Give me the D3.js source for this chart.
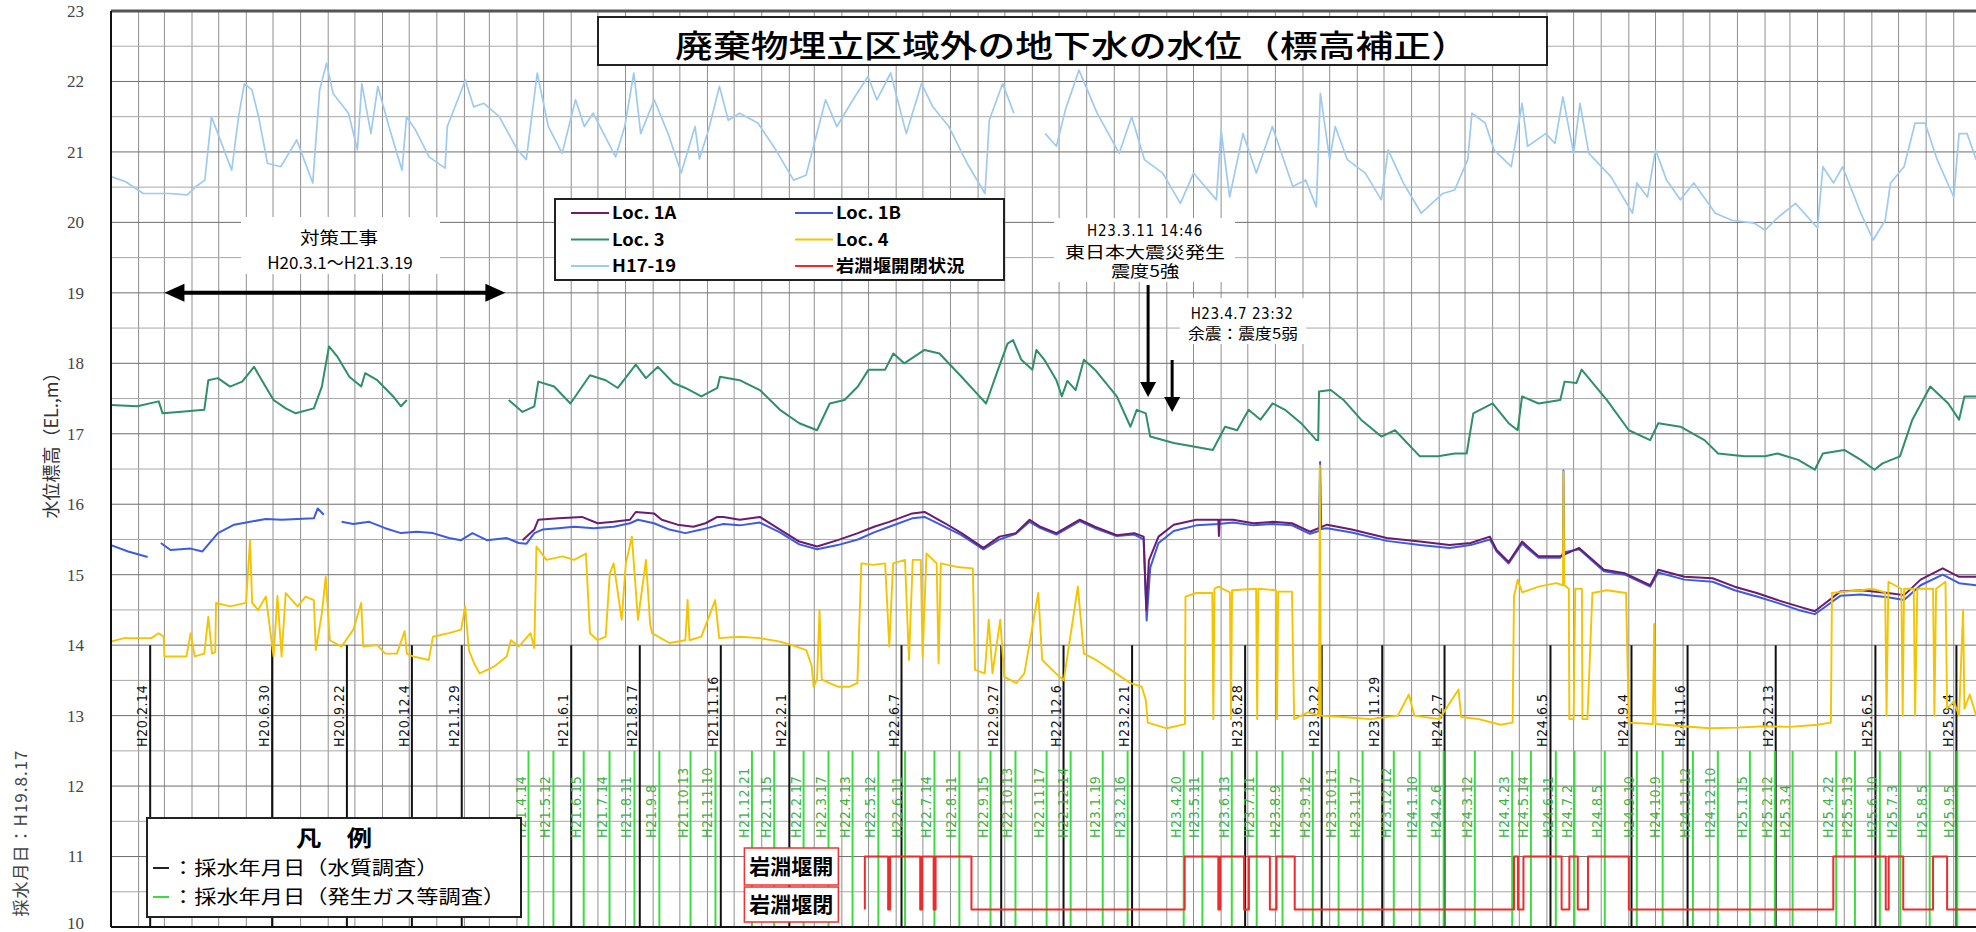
<!DOCTYPE html>
<html><head><meta charset="utf-8">
<script src="https://cdn.jsdelivr.net/npm/d3@7"></script>
<style>body{margin:0;background:#fff}svg{display:block}</style>
</head><body>
<svg id="c" width="1976" height="932"></svg>
<script>
// x values: months elapsed since H20.1.1 (2008-01-01); y values: water level EL.m
const seriesNames = ["Loc. 1A","Loc. 1B","Loc. 3","Loc. 4","H17-19","岩淵堰開閉状況"];
const seriesColors = ["#6b1c6e","#3d5be0","#2f8f66","#f5c400","#9fcaf0","#ee2a2a"];

const h1719 = [[0,20.65],[0.52,20.58],[1.18,20.41],[2.17,20.41],[2.83,20.39],[3.15,20.51],[3.48,20.6],[3.73,21.5],[3.97,21.26],[4.47,20.74],[4.72,21.5],[4.93,21.97],[5.21,21.88],[5.46,21.5],[5.79,20.84],[6.28,20.79],[6.86,21.17],[7.44,20.56],[7.69,21.88],[7.94,22.26],[8.18,21.83],[8.76,21.55],[9.09,21.03],[9.25,21.97],[9.58,21.26],[9.83,21.93],[10.24,21.36],[10.73,20.74],[10.9,21.5],[11.23,21.31],[11.72,20.93],[12.3,20.77],[12.38,21.36],[13.04,22.02],[13.37,21.64],[13.78,21.69],[14.36,21.5],[15.02,21.03],[15.35,20.89],[15.76,22.12],[16.17,21.36],[16.67,20.98],[17.16,21.74],[17.49,21.36],[17.82,21.55],[18.64,20.93],[18.97,21.36],[19.3,22.12],[19.55,21.26],[20.04,21.74],[20.56,21.26],[21.05,20.7],[21.55,21.36],[21.71,20.9],[22.04,21.31],[22.45,21.93],[22.78,21.45],[23.2,21.55],[23.86,21.41],[24.51,21.03],[25.17,20.6],[25.67,20.67],[26.16,21.36],[26.41,21.74],[26.82,21.36],[27.48,21.78],[27.98,22.07],[28.3,21.74],[28.8,22.12],[29.38,21.26],[29.95,21.97],[30.36,21.64],[30.94,21.36],[31.6,20.84],[32.26,20.41],[32.42,21.45],[32.92,21.97],[33.33,21.55],[33.9,null],[34.48,21.26],[34.9,21.08],[35.23,21.6],[35.72,22.16],[36.38,21.55],[37.2,20.98],[37.7,21.5],[38.19,20.89],[38.85,20.7],[39.51,20.27],[40.0,20.7],[40.83,20.32],[41.0,21.31],[41.32,20.36],[41.82,21.26],[42.31,20.7],[42.89,21.36],[43.63,20.51],[44.1,20.6],[44.5,20.22],[44.65,21.83],[45.0,20.89],[45.2,21.36],[45.64,20.89],[46.3,20.7],[46.9,20.32],[47.15,21.03],[47.7,20.56],[48.35,20.13],[49.14,20.41],[49.6,20.46],[50.1,20.89],[50.25,21.55],[50.73,21.41],[51.05,21.03],[51.7,20.79],[52.1,21.69],[52.3,21.08],[52.96,21.26],[53.3,21.12],[53.6,21.78],[54.0,20.98],[54.23,21.69],[54.55,20.98],[55.35,20.65],[56.14,20.13],[56.3,20.56],[56.7,20.36],[57.0,21.03],[57.4,20.6],[57.9,20.32],[58.4,20.56],[59.2,20.13],[59.8,20.03],[60.6,19.99],[61.0,19.89],[61.55,20.08],[62.2,20.27],[63.0,19.92],[63.2,20.79],[63.6,20.56],[63.94,20.79],[64.6,20.13],[65.05,19.75],[65.5,20.03],[65.7,20.56],[66.2,20.79],[66.6,21.41],[66.96,21.41],[67.4,20.89],[68.0,20.36],[68.2,21.26],[68.5,21.26],[68.84,20.89]];

const loc3 = [[0,17.41],[0.95,17.39],[1.78,17.46],[1.93,17.29],[2.51,17.31],[3.46,17.34],[3.61,17.76],[3.97,17.79],[4.41,17.67],[4.85,17.74],[5.29,17.95],[5.58,17.76],[6.02,17.48],[6.46,17.36],[6.82,17.29],[7.48,17.36],[7.77,17.67],[8.03,18.24],[8.35,18.09],[8.79,17.81],[9.23,17.67],[9.37,17.86],[9.81,17.76],[10.4,17.53],[10.69,17.39],[10.91,17.48],[12,null],[14.7,17.48],[15.21,17.31],[15.65,17.39],[15.8,17.74],[16.38,17.67],[16.97,17.43],[17.7,17.83],[18.28,17.76],[18.72,17.65],[19.37,17.98],[19.74,17.79],[20.18,17.95],[20.76,17.72],[21.2,17.65],[21.78,17.53],[22.37,17.65],[22.47,17.81],[23.2,17.76],[23.93,17.62],[24.66,17.34],[25.4,17.15],[26.1,17.05],[26.56,17.43],[27.1,17.48],[27.6,17.67],[28.0,17.91],[28.6,17.91],[28.9,18.14],[29.3,18.0],[30.06,18.19],[30.6,18.14],[31.4,17.81],[31.96,17.57],[32.3,17.43],[32.7,17.86],[33.1,18.28],[33.3,18.33],[33.6,18.05],[34.0,17.91],[34.15,18.19],[34.45,18.05],[34.9,17.76],[35.1,17.53],[35.3,17.75],[35.6,17.62],[35.9,18.05],[36.3,17.91],[37.1,17.53],[37.65,17.1],[37.9,17.34],[38.24,17.29],[38.4,16.96],[39.26,16.87],[40.0,16.82],[40.7,16.77],[41.15,17.1],[41.6,17.05],[42.03,17.34],[42.46,17.2],[42.9,17.43],[43.35,17.34],[43.93,17.15],[44.5,16.91],[44.57,16.91],[44.6,17.6],[45.04,17.62],[45.5,17.48],[46.14,17.2],[46.9,16.96],[47.4,17.05],[48.3,16.68],[48.96,16.68],[49.6,16.72],[50.06,16.72],[50.3,17.29],[51.0,17.43],[51.6,17.15],[51.94,17.05],[52.1,17.53],[52.7,17.43],[53.5,17.48],[53.66,17.74],[54.1,17.72],[54.29,17.91],[55.2,17.48],[56.0,17.05],[56.8,16.91],[57.1,17.15],[57.9,17.1],[58.8,16.91],[59.3,16.72],[60.25,16.68],[61.0,16.68],[61.5,16.72],[62.3,16.63],[62.9,16.49],[63.2,16.72],[64.0,16.77],[64.6,16.63],[65.1,16.49],[65.4,16.58],[66.05,16.68],[66.5,17.2],[67.15,17.67],[67.8,17.43],[68.2,17.2],[68.4,17.53],[68.84,17.53]];

const loc1B = [[0,15.42],[0.62,15.33],[1.35,15.25],[1.6,null],[1.86,15.45],[2.22,15.35],[2.95,15.37],[3.39,15.33],[3.97,15.59],[4.56,15.71],[5.14,15.75],[5.73,15.79],[6.31,15.78],[6.89,15.79],[7.48,15.8],[7.62,15.94],[7.84,15.85],[8.2,null],[8.5,15.75],[8.94,15.72],[9.52,15.75],[10.1,15.66],[10.69,15.59],[11.27,15.61],[11.86,15.59],[12.44,15.52],[12.88,15.49],[13.32,15.59],[13.9,15.49],[14.63,15.52],[15.07,15.45],[15.36,15.44],[15.65,15.59],[15.95,15.64],[16.53,15.66],[17.11,15.68],[17.84,15.66],[18.57,15.68],[19.16,15.73],[19.45,15.78],[20.03,15.73],[20.61,15.64],[21.2,15.59],[21.78,15.64],[22.37,15.7],[22.6,15.72],[23.2,15.7],[23.93,15.74],[24.66,15.6],[25.4,15.43],[26.1,15.36],[26.85,15.42],[27.6,15.5],[28.2,15.6],[28.75,15.68],[29.6,15.8],[30.06,15.82],[30.8,15.68],[31.4,15.56],[32.2,15.36],[32.8,15.5],[33.4,15.58],[33.9,15.75],[34.3,15.66],[34.9,15.57],[35.75,15.76],[36.3,15.66],[37.1,15.55],[37.8,15.57],[38.16,15.5],[38.27,14.35],[38.4,15.1],[38.7,15.45],[39.26,15.62],[40.1,15.7],[40.9,15.72],[41.45,15.74],[42.2,15.7],[42.9,15.72],[43.6,15.7],[44.26,15.58],[44.6,15.62],[44.64,16.6],[44.68,15.65],[44.9,15.66],[45.8,15.6],[47.1,15.48],[48.3,15.42],[49.4,15.38],[50.2,15.42],[50.9,15.5],[51.15,15.33],[51.6,15.16],[52.1,15.44],[52.7,15.24],[53.5,15.24],[53.6,15.3],[53.62,16.48],[53.65,15.32],[54.2,15.36],[55.1,15.05],[55.86,15.0],[56.8,14.83],[57.1,15.03],[58.05,14.93],[59.1,14.9],[59.9,14.78],[60.7,14.69],[61.5,14.6],[62.3,14.5],[62.9,14.44],[63.2,14.52],[63.85,14.7],[64.6,14.72],[65.6,14.68],[66.2,14.64],[66.8,14.85],[67.6,15.0],[68.2,14.88],[68.84,14.85]];

const loc1A = [[15.21,15.49],[15.65,15.64],[15.8,15.78],[16.53,15.8],[17.4,15.82],[17.99,15.73],[18.57,15.75],[19.16,15.78],[19.37,15.89],[20.03,15.87],[20.32,15.78],[20.91,15.71],[21.49,15.68],[21.93,15.73],[22.37,15.82],[22.6,15.82],[23.2,15.78],[23.93,15.82],[24.66,15.64],[25.4,15.47],[26.1,15.4],[26.85,15.49],[27.6,15.59],[28.2,15.68],[28.75,15.75],[29.6,15.87],[30.06,15.89],[30.8,15.73],[31.4,15.59],[32.2,15.38],[32.8,15.54],[33.4,15.59],[33.9,15.78],[34.3,15.68],[34.9,15.59],[35.75,15.78],[36.3,15.68],[37.1,15.56],[37.8,15.59],[38.16,15.54],[38.26,14.5],[38.35,15.2],[38.7,15.54],[39.26,15.71],[40.1,15.78],[40.9,15.78],[40.92,15.55],[40.95,15.78],[41.45,15.78],[42.2,15.73],[42.9,15.75],[43.6,15.73],[44.26,15.61],[44.9,15.71],[45.8,15.64],[47.1,15.52],[48.3,15.47],[49.4,15.42],[50.2,15.45],[50.9,15.54],[51.15,15.35],[51.6,15.18],[52.1,15.47],[52.7,15.26],[53.5,15.26],[54.2,15.38],[55.1,15.07],[55.86,15.02],[56.8,14.85],[57.1,15.07],[58.05,14.97],[59.1,14.95],[59.9,14.83],[60.7,14.74],[61.5,14.64],[62.3,14.55],[62.9,14.48],[63.2,14.57],[63.85,14.76],[64.6,14.78],[65.6,14.74],[66.2,14.71],[66.8,14.93],[67.6,15.09],[68.2,14.97],[68.84,14.97]];

const loc4 = [[0,14.05],[0.47,14.1],[1.49,14.1],[1.78,14.17],[1.97,14.12],[2.0,13.84],[2.8,13.84],[2.95,14.17],[3.1,13.84],[3.46,13.88],[3.61,14.4],[3.75,13.88],[3.87,13.9],[3.9,14.6],[4.41,14.55],[4.99,14.6],[5.14,15.49],[5.22,14.6],[5.44,14.5],[5.73,14.69],[6.02,13.84],[6.16,14.7],[6.31,13.84],[6.46,14.74],[6.89,14.55],[7.18,14.69],[7.48,14.64],[7.55,13.93],[7.77,14.45],[7.91,14.97],[8.06,14.07],[8.5,13.98],[8.94,14.22],[9.23,14.6],[9.3,13.98],[9.81,14.0],[10.1,13.88],[10.54,13.88],[10.83,14.2],[10.91,13.88],[11.13,13.84],[11.71,13.79],[11.86,14.12],[12.44,14.17],[12.88,14.22],[13.03,14.55],[13.18,13.93],[13.39,13.74],[13.61,13.6],[14.19,13.7],[14.63,13.84],[14.78,14.07],[15.07,13.98],[15.51,14.17],[15.65,13.96],[15.73,15.4],[16.1,15.21],[16.68,15.26],[17.11,15.21],[17.55,15.3],[17.7,14.17],[17.99,14.07],[18.28,14.12],[18.43,15.02],[18.57,15.16],[18.86,14.36],[19.01,15.16],[19.23,15.54],[19.45,14.36],[19.74,15.21],[19.89,14.3],[19.96,14.17],[20.61,14.03],[21.2,14.07],[21.28,14.64],[21.35,14.07],[21.78,14.12],[22.29,14.64],[22.44,14.1],[23.2,14.12],[23.93,14.1],[24.66,14.05],[25.1,14.0],[25.68,13.93],[25.9,13.7],[25.97,13.41],[26.1,13.51],[26.19,14.5],[26.27,13.51],[26.85,13.41],[27.29,13.41],[27.58,13.46],[27.73,15.16],[28.16,15.14],[28.6,15.16],[28.75,13.98],[28.89,15.16],[29.33,15.21],[29.48,13.79],[29.62,15.21],[29.92,15.21],[29.99,13.84],[30.13,15.3],[30.5,15.16],[30.57,13.74],[30.65,15.16],[31.23,15.11],[31.81,15.09],[31.89,13.65],[32.25,13.6],[32.4,14.36],[32.54,13.6],[32.83,14.36],[32.98,13.55],[33.42,13.46],[33.71,13.6],[34.22,14.74],[34.37,13.79],[34.88,13.6],[35.17,13.5],[35.68,14.83],[35.9,13.88],[36.34,13.79],[37.07,13.6],[37.65,13.46],[38.09,13.41],[38.24,13.22],[38.31,12.9],[39.0,12.82],[39.68,12.88],[39.7,14.69],[40.1,14.74],[40.68,14.74],[40.72,12.95],[40.76,14.8],[40.9,14.83],[41.33,14.75],[41.37,12.95],[41.41,14.78],[42.3,14.8],[42.34,12.95],[42.38,14.8],[43.02,14.78],[43.06,12.95],[43.1,14.76],[43.6,14.76],[43.68,12.95],[44.2,13.05],[44.6,13.0],[44.63,16.55],[44.67,13.0],[45.5,12.98],[46.5,12.95],[47.5,13.0],[47.9,13.3],[48.1,13.0],[49.0,12.95],[49.75,13.37],[49.85,12.98],[50.5,12.95],[51.3,12.87],[51.75,12.9],[51.8,14.69],[51.94,14.93],[52.1,14.75],[52.7,14.83],[53.35,14.88],[53.6,14.85],[53.62,16.46],[53.65,14.85],[53.82,14.8],[53.84,12.95],[54.0,12.95],[54.06,14.8],[54.3,14.8],[54.32,12.95],[54.5,12.95],[54.68,14.74],[55.2,14.78],[55.9,14.74],[56.0,12.9],[56.9,12.88],[56.95,14.3],[57.0,12.88],[58.0,12.85],[59.0,12.82],[60.0,12.83],[61.0,12.85],[62.0,12.84],[63.0,12.87],[63.5,12.9],[63.54,14.74],[64.0,14.76],[64.6,14.78],[65.0,14.8],[65.5,14.75],[65.55,13.0],[65.62,14.9],[66.1,14.8],[66.15,13.0],[66.2,14.8],[66.55,14.8],[66.6,13.0],[66.68,14.8],[67.25,14.8],[67.3,13.0],[67.36,14.8],[67.7,14.9],[67.76,13.1],[68.0,13.2],[68.2,13.0],[68.35,14.5],[68.4,13.1],[68.6,13.3],[68.84,13.0]];

// weir status: 11 = open, 10.25 = closed (step after)
const weir = [[27.86,10.25],[27.86,11],[28.71,10.25],[28.78,11],[29.9,10.25],[29.97,11],[30.39,10.25],[30.46,11],[31.76,10.25],[39.67,11],[40.9,10.25],[40.97,11],[41.86,10.25],[42.04,11],[42.8,10.25],[43.04,11],[43.7,10.25],[51.8,11],[51.95,10.25],[52.15,11],[53.55,10.25],[53.84,11],[54.15,10.25],[54.52,11],[56.0,10.25],[63.59,11],[65.52,10.25],[65.63,11],[66.17,10.25],[67.25,11],[67.76,10.25],[68.84,10.25]];

const qualityDates = ["H20.2.14","H20.6.30","H20.9.22","H20.12.4","H21.1.29","H21.6.1","H21.8.17","H21.11.16","H22.2.1","H22.6.7","H22.9.27","H22.12.6","H23.2.21","H23.6.28","H23.9.22","H23.11.29","H24.2.7","H24.6.5","H24.9.4","H24.11.6","H25.2.13","H25.6.5","H25.9.4"];
const gasDates = ["H21.4.14","H21.5.12","H21.6.15","H21.7.14","H21.8.11","H21.9.8","H21.10.13","H21.11.10","H21.12.21","H22.1.15","H22.2.17","H22.3.17","H22.4.13","H22.5.12","H22.6.11","H22.7.14","H22.8.11","H22.9.15","H22.10.13","H22.11.17","H22.12.14","H23.1.19","H23.2.16","H23.4.20","H23.5.11","H23.6.13","H23.7.11","H23.8.9","H23.9.12","H23.10.11","H23.11.7","H23.12.12","H24.1.10","H24.2.6","H24.3.12","H24.4.23","H24.5.14","H24.6.11","H24.7.2","H24.8.5","H24.9.10","H24.10.9","H24.11.12","H24.12.10","H25.1.15","H25.2.12","H25.3.4","H25.4.22","H25.5.13","H25.6.10","H25.7.3","H25.8.5","H25.9.5"];
const yTicks = [10,11,12,13,14,15,16,17,18,19,20,21,22,23];

const svg = d3.select("#c");
const CJK = '"Noto Sans CJK JP","Noto Sans CJK SC",sans-serif';
const x = d3.scaleTime().domain([new Date(2008,0,1), new Date(2013,8,26)]).range([111,1976]);
const y = d3.scaleLinear().domain([10,23]).range([927,11]);
function md(m){const i=Math.floor(m),f=m-i;const a=new Date(2008,i,1),b=new Date(2008,i+1,1);return new Date(+a+f*(b-a));}
function hd(s){const p=s.slice(1).split(".").map(Number);return new Date(1988+p[0],p[1]-1,p[2]);}
const X = m => x(md(m));

function txt(parent,px,py,s,o={}){
  let tr=`translate(${px},${py})`; if(o.rot) tr+=` rotate(${o.rot})`; if(o.sx) tr+=` scale(${o.sx},1)`;
  const t=parent.append("text").attr("transform",tr).attr("text-anchor",o.anchor||"middle")
    .attr("font-family",o.font||CJK).attr("font-size",o.size||16).attr("font-weight",o.weight||"normal")
    .attr("fill",o.fill||"#000").text(s);
  if(o.ls) t.attr("letter-spacing",o.ls);
  return t;
}

// grid
const grid = svg.append("g");
grid.selectAll("line.v").data(d3.timeMonth.range(new Date(2008,1,1), new Date(2013,9,1))).join("line")
  .attr("x1",d=>x(d)).attr("x2",d=>x(d)).attr("y1",y(23)).attr("y2",y(10)).attr("stroke","#8f8f8f").attr("stroke-width",1);
grid.selectAll("line.h").data(d3.range(10.5,23,0.5)).join("line")
  .attr("x1",111).attr("x2",1976).attr("y1",d=>y(d)).attr("y2",d=>y(d))
  .attr("stroke",d=>Number.isInteger(d)?"#6e6e6e":"#a8a8a8").attr("stroke-width",1);

// axis labels
const ax = svg.append("g").attr("transform","translate(111,0)").call(d3.axisLeft(y).tickValues(yTicks).tickSize(0).tickPadding(27).tickFormat(d3.format("d")));
ax.select(".domain").remove();
ax.selectAll("text").attr("font-family",'"Liberation Serif","DejaVu Serif",serif').attr("font-size",17).attr("fill","#444")
  .attr("dy",d=>d===10?"0.1em":"0.32em");
txt(svg,58,441,"水位標高（EL.,m）",{rot:-90,size:18,fill:"#333"});
txt(svg,27,833,"採水月日：H19.8.17",{rot:-90,size:17,fill:"#444",ls:1});

// sample lines
const samp = svg.append("g");
qualityDates.forEach(s=>{
  const px=x(hd(s));
  samp.append("line").attr("x1",px).attr("x2",px).attr("y1",y(14)).attr("y2",y(10)).attr("stroke","#111").attr("stroke-width",2);
  txt(samp,px-3,747,s,{rot:-90,anchor:"start",size:14,font:'"DejaVu Sans Condensed","DejaVu Sans",sans-serif',fill:"#111",ls:0.6});
});
gasDates.forEach(s=>{
  const px=x(hd(s));
  samp.append("line").attr("x1",px).attr("x2",px).attr("y1",y(12.5)).attr("y2",y(10)).attr("stroke","#3ddc3d").attr("stroke-width",2);
  txt(samp,px-3,838,s,{rot:-90,anchor:"start",size:14,font:'"DejaVu Sans Condensed","DejaVu Sans",sans-serif',fill:"#3cb043",ls:0.6});
});

// series
const line = d3.line().defined(d=>d[1]!==null).x(d=>X(d[0])).y(d=>y(d[1]));
const ser = svg.append("g").attr("fill","none").attr("stroke-linejoin","round");
ser.append("path").attr("d",line(h1719)).attr("stroke",seriesColors[4]).attr("stroke-width",1.7);
ser.append("path").attr("d",line(loc3)).attr("stroke",seriesColors[2]).attr("stroke-width",2);
ser.append("path").attr("d",line(loc1B)).attr("stroke",seriesColors[1]).attr("stroke-width",2);
ser.append("path").attr("d",line(loc1A)).attr("stroke",seriesColors[0]).attr("stroke-width",2);
ser.append("path").attr("d",line(loc4)).attr("stroke",seriesColors[3]).attr("stroke-width",1.9);
ser.append("path").attr("d",d3.line().curve(d3.curveStepAfter).x(d=>X(d[0])).y(d=>y(d[1]))(weir)).attr("stroke",seriesColors[5]).attr("stroke-width",2);

// frame
svg.append("line").attr("x1",111).attr("x2",1976).attr("y1",y(23)).attr("y2",y(23)).attr("stroke","#555").attr("stroke-width",3);
svg.append("line").attr("x1",111).attr("x2",1976).attr("y1",y(10)).attr("y2",y(10)).attr("stroke","#111").attr("stroke-width",2);
svg.append("line").attr("x1",111).attr("x2",111).attr("y1",y(23)).attr("y2",y(10)).attr("stroke","#111").attr("stroke-width",2);

// title
svg.append("rect").attr("x",598).attr("y",17).attr("width",949).attr("height",48).attr("fill","#fff").attr("stroke","#222").attr("stroke-width",2);
txt(svg,1072,57,"廃棄物埋立区域外の地下水の水位（標高補正）",{size:31,sx:1.22,weight:500});

// legend (series)
const lg = svg.append("g");
lg.append("rect").attr("x",555).attr("y",199).attr("width",449).attr("height",81).attr("fill","#fff").attr("stroke","#222").attr("stroke-width",2);
[0,1,2,3,4,5].forEach((k,i)=>{
  const col=i%2,row=Math.floor(i/2);
  const lx=col?795:571, ly=213+row*26.5;
  lg.append("line").attr("x1",lx).attr("x2",lx+38).attr("y1",ly).attr("y2",ly).attr("stroke",seriesColors[k]).attr("stroke-width",2);
  txt(lg,lx+41,ly+6,seriesNames[k],{anchor:"start",size:17,weight:"bold",sx:1.08});
});

// annotation: countermeasure works
const a1 = svg.append("g");
a1.append("rect").attr("x",241).attr("y",217).attr("width",199).attr("height",57).attr("fill","#fff");
txt(a1,339,244,"対策工事",{size:17,sx:1.15});
txt(a1,340,269,"H20.3.1～H21.3.19",{size:17});
const ax1=x(hd("H20.3.1")), ax2=x(hd("H21.3.19")), ay=y(19);
a1.append("line").attr("x1",ax1+14).attr("x2",ax2-14).attr("y1",ay).attr("y2",ay).attr("stroke","#000").attr("stroke-width",4);
a1.append("path").attr("d",`M${ax1},${ay}L${ax1+20},${ay-9}L${ax1+20},${ay+9}Z`).attr("fill","#000");
a1.append("path").attr("d",`M${ax2},${ay}L${ax2-20},${ay-9}L${ax2-20},${ay+9}Z`).attr("fill","#000");

// annotation: earthquakes
const eq = svg.append("g");
eq.append("rect").attr("x",1054).attr("y",218).attr("width",181).attr("height",64).attr("fill","#fff");
txt(eq,1145,236,"H23.3.11 14:46",{size:15,font:'"DejaVu Sans Condensed","DejaVu Sans",sans-serif',ls:0.8});
txt(eq,1145,258,"東日本大震災発生",{size:16,sx:1.25});
txt(eq,1145,277,"震度5強",{size:16,sx:1.2});
eq.append("rect").attr("x",1180).attr("y",298).attr("width",126).attr("height",46).attr("fill","#fff");
txt(eq,1242,319,"H23.4.7 23:32",{size:15,font:'"DejaVu Sans Condensed","DejaVu Sans",sans-serif',ls:0.5});
txt(eq,1243,339,"余震：震度5弱",{size:15,sx:1.12});
const e1=x(hd("H23.3.11")), e2=x(hd("H23.4.7"));
eq.append("line").attr("x1",e1).attr("x2",e1).attr("y1",285).attr("y2",385).attr("stroke","#000").attr("stroke-width",3);
eq.append("path").attr("d",`M${e1},397L${e1-8},382L${e1+8},382Z`).attr("fill","#000");
eq.append("line").attr("x1",e2).attr("x2",e2).attr("y1",360).attr("y2",400).attr("stroke","#000").attr("stroke-width",3);
eq.append("path").attr("d",`M${e2},412L${e2-8},397L${e2+8},397Z`).attr("fill","#000");

// weir labels
const wl = svg.append("g");
const wx = X(23.37);
wl.append("rect").attr("x",wx).attr("y",848).attr("width",94).attr("height",37).attr("fill","#fff").attr("stroke","#e33").attr("stroke-width",1.5);
wl.append("rect").attr("x",wx).attr("y",887).attr("width",94).attr("height",35).attr("fill","#fff").attr("stroke","#e33").attr("stroke-width",1.5);
txt(wl,wx+47,874,"岩淵堰開",{size:21,weight:"bold"});
txt(wl,wx+47,912,"岩淵堰閉",{size:21,weight:"bold"});

// legend (sampling)
const lg2 = svg.append("g");
lg2.append("rect").attr("x",147).attr("y",818).attr("width",374).attr("height",99).attr("fill","#fff").attr("stroke","#222").attr("stroke-width",2);
txt(lg2,334,846,"凡　例",{size:22,weight:"bold",sx:1.15});
lg2.append("line").attr("x1",153).attr("x2",169).attr("y1",868).attr("y2",868).attr("stroke","#222").attr("stroke-width",2);
lg2.append("line").attr("x1",153).attr("x2",169).attr("y1",897).attr("y2",897).attr("stroke","#3ddc3d").attr("stroke-width",2);
txt(lg2,172,875,"：採水年月日（水質調査）",{anchor:"start",size:19,sx:1.17});
txt(lg2,172,904,"：採水年月日（発生ガス等調査）",{anchor:"start",size:19,sx:1.17});
</script>
</body></html>
